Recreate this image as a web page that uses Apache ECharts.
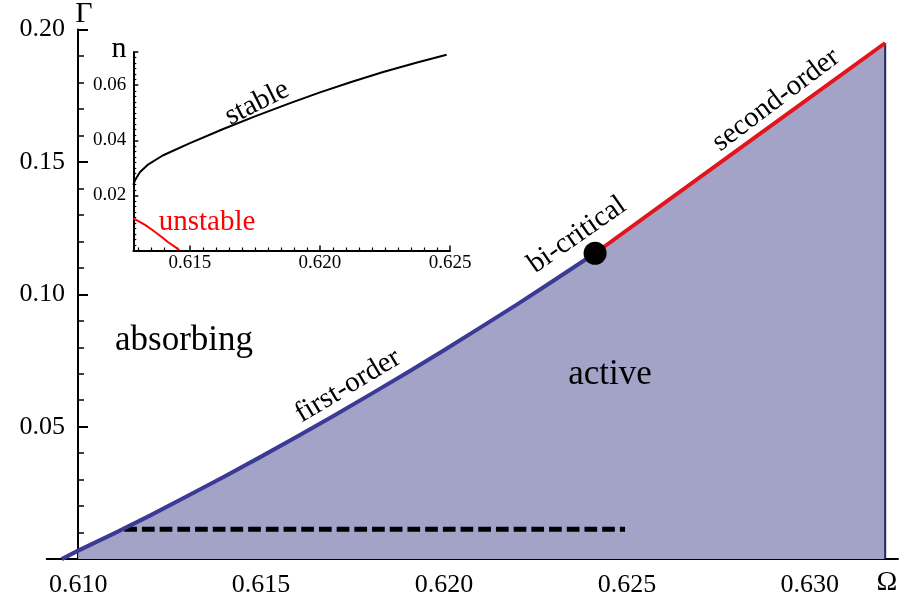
<!DOCTYPE html>
<html>
<head>
<meta charset="utf-8">
<script src="https://cdn.jsdelivr.net/npm/echarts@6/dist/echarts.min.js"></script>
<style>html,body{margin:0;padding:0;background:#fff;}#c{width:906px;height:608px;}</style>
</head>
<body>
<div id="c"></div>
<script>
// ---------- data ----------
// main panel: first-order boundary (blue)
const firstOrderOmega = [0.60955, 0.6100, 0.6110, 0.6120, 0.6130, 0.6140, 0.6150, 0.6160, 0.6170, 0.6180, 0.6190, 0.6200, 0.6210, 0.6220, 0.6230, 0.62413];
const firstOrderGamma = [0.0000, 0.0032, 0.0098, 0.0167, 0.0239, 0.0312, 0.0387, 0.0464, 0.0542, 0.0623, 0.0705, 0.0789, 0.0875, 0.0962, 0.1052, 0.1155];
// second-order boundary (red)
const secondOrderOmega = [0.62413, 0.62800, 0.63206];
const secondOrderGamma = [0.1155, 0.1543, 0.1949];
// bi-critical point
const biCritical = [0.62413, 0.1155];
// dashed cut
const dashedOmega = [0.61126, 0.62495];
const dashedGamma = [0.0113, 0.0113];
// right boundary of active region
const edgeOmega = [0.63206, 0.63206];
const edgeGamma = [0, 0.1949];
// ticks
const mainXTicks = [0.610, 0.615, 0.620, 0.625, 0.630];
const mainXMinor = [0.611, 0.612, 0.613, 0.614, 0.616, 0.617, 0.618, 0.619, 0.621, 0.622, 0.623, 0.624, 0.626, 0.627, 0.628, 0.629, 0.631, 0.632];
const insetXTicks = [0.615, 0.620, 0.625];
const insetXMinor = [0.613, 0.6135, 0.614, 0.6145, 0.6155, 0.616, 0.6165, 0.617, 0.6175, 0.618, 0.6185, 0.619, 0.6195, 0.6205, 0.621, 0.6215, 0.622, 0.6225, 0.623, 0.6235, 0.624, 0.6245];
// inset: stable branch (black) and unstable branch (red)
const stableOmega = [0.61282, 0.61290, 0.61308, 0.61340, 0.61395, 0.61500, 0.61628, 0.61750, 0.61885, 0.62000, 0.62120, 0.62243, 0.62370, 0.62487];
const stableN     = [0.0238, 0.0258, 0.0285, 0.0313, 0.0345, 0.0390, 0.0441, 0.0487, 0.0535, 0.0574, 0.0612, 0.0648, 0.0682, 0.0711];
const unstableOmega = [0.61282, 0.61305, 0.61327, 0.61350, 0.61372, 0.61394, 0.61416, 0.61438, 0.61459];
const unstableN     = [0.0117, 0.0105, 0.0093, 0.0078, 0.00625, 0.0047, 0.0030, 0.0016, 0.0002];

// ---------- build ----------
const zip = (a, b) => a.map((v, i) => [v, b[i]]);
const blueData = zip(firstOrderOmega, firstOrderGamma);
const redData = zip(secondOrderOmega, secondOrderGamma);
const fillData = blueData.slice(1).concat(redData.slice(1));

const SERIF = '"Liberation Serif", "Times New Roman", serif';
const chart = echarts.init(document.getElementById('c'), null, {renderer: 'canvas'});

function txt(text, x, y, size, deg, color) {
  return {
    type: 'text', x: x, y: y, rotation: (deg || 0) * Math.PI / 180, z: 100,
    style: {text: text, font: size + 'px ' + SERIF, fill: color || '#000',
            textAlign: 'center', textVerticalAlign: 'middle', align: 'center', verticalAlign: 'middle'}
  };
}

const option = {
  animation: false,
  backgroundColor: '#fff',
  grid: [
    {left: 46.7, right: 8, top: 29.5, bottom: 48.9},
    {left: 133.3, right: 456, top: 52.2, bottom: 357.5}
  ],
  xAxis: [
    {gridIndex: 0, type: 'value', min: 0.60914, max: 0.63241, position: 'bottom',
     axisLine: {show: true, onZero: false, lineStyle: {color: '#000', width: 2}},
     axisTick: {show: true, inside: true, length: 9, customValues: mainXTicks, lineStyle: {color: '#000', width: 2}},
     minorTick: {show: false},
     axisLabel: {show: true, customValues: mainXTicks, margin: 13, color: '#000', fontSize: 26, fontFamily: SERIF,
                 formatter: v => v.toFixed(3)},
     splitLine: {show: false}},
    {gridIndex: 0, type: 'value', min: 0.60914, max: 0.63241, position: 'bottom',
     axisLine: {show: false, onZero: false},
     axisTick: {show: true, inside: true, length: 5, customValues: mainXMinor, lineStyle: {color: '#000', width: 1.5}},
     axisLabel: {show: false}, splitLine: {show: false}},
    {gridIndex: 1, type: 'value', min: 0.61282, max: 0.625, position: 'bottom',
     axisLine: {show: true, onZero: false, lineStyle: {color: '#000', width: 2}},
     axisTick: {show: true, inside: true, length: 5, customValues: insetXTicks, lineStyle: {color: '#000', width: 1.5}},
     axisLabel: {show: true, customValues: insetXTicks, margin: 3, color: '#000', fontSize: 19, fontFamily: SERIF,
                 formatter: v => v.toFixed(3)},
     splitLine: {show: false}},
    {gridIndex: 1, type: 'value', min: 0.61282, max: 0.625, position: 'bottom',
     axisLine: {show: false, onZero: false},
     axisTick: {show: true, inside: true, length: 3, customValues: insetXMinor, lineStyle: {color: '#000', width: 1.2}},
     axisLabel: {show: false}, splitLine: {show: false}}
  ],
  yAxis: [
    {gridIndex: 0, type: 'value', min: 0, max: 0.2, interval: 0.05, position: 'left', offset: -31.3,
     axisLine: {show: true, onZero: false, lineStyle: {color: '#000', width: 2}},
     axisTick: {show: true, inside: true, length: 10, lineStyle: {color: '#000', width: 2}},
     minorTick: {show: true, splitNumber: 5, length: 6, lineStyle: {color: '#000', width: 1.5}},
     axisLabel: {margin: 13, color: '#000', fontSize: 26, fontFamily: SERIF,
                 formatter: v => v === 0 ? '' : v.toFixed(2)},
     splitLine: {show: false}, minorSplitLine: {show: false}},
    {gridIndex: 1, type: 'value', min: 0, max: 0.072, interval: 0.02, position: 'left',
     axisLine: {show: true, onZero: false, lineStyle: {color: '#000', width: 2}},
     axisTick: {show: true, inside: true, length: 5, lineStyle: {color: '#000', width: 1.5}},
     minorTick: {show: true, splitNumber: 10, length: 3, lineStyle: {color: '#000', width: 1.2}},
     axisLabel: {margin: 7, color: '#000', fontSize: 19, fontFamily: SERIF, showMaxLabel: false,
                 formatter: v => (v === 0 || Math.abs(v / 0.02 - Math.round(v / 0.02)) > 1e-6) ? '' : v.toFixed(2)},
     splitLine: {show: false}, minorSplitLine: {show: false}}
  ],
  series: [
    {name: 'active', type: 'line', xAxisIndex: 0, yAxisIndex: 0, data: fillData, smooth: false,
     showSymbol: false, lineStyle: {width: 0}, areaStyle: {color: '#a3a2c7', opacity: 1}, z: 1, silent: true},
    {name: 'dashed', type: 'line', xAxisIndex: 0, yAxisIndex: 0, data: zip(dashedOmega, dashedGamma),
     showSymbol: false, lineStyle: {color: '#000', width: 5, type: [12.7, 5]}, z: 3},
    {name: 'edge', type: 'line', xAxisIndex: 0, yAxisIndex: 0, data: zip(edgeOmega, edgeGamma),
     showSymbol: false, lineStyle: {color: '#25255a', width: 2}, z: 3},
    {name: 'first-order', type: 'line', xAxisIndex: 0, yAxisIndex: 0, data: blueData, smooth: false,
     showSymbol: false, lineStyle: {color: '#3b3b96', width: 4, join: 'round'}, z: 4},
    {name: 'second-order', type: 'line', xAxisIndex: 0, yAxisIndex: 0, data: redData,
     showSymbol: false, lineStyle: {color: '#e3141c', width: 4, join: 'round'}, z: 4},
    {name: 'bi-critical', type: 'scatter', xAxisIndex: 0, yAxisIndex: 0, data: [biCritical],
     symbol: 'circle', symbolSize: 23, itemStyle: {color: '#000', opacity: 1}, z: 5},
    {name: 'stable', type: 'line', xAxisIndex: 2, yAxisIndex: 1, data: zip(stableOmega, stableN), smooth: false,
     showSymbol: false, lineStyle: {color: '#000', width: 2, join: 'round'}, z: 4},
    {name: 'unstable', type: 'line', xAxisIndex: 2, yAxisIndex: 1, data: zip(unstableOmega, unstableN), smooth: false,
     showSymbol: false, lineStyle: {color: '#ff0000', width: 2, join: 'round'}, z: 4}
  ],
  graphic: [
    txt('Γ', 84, 14, 30),
    txt('Ω', 887, 583, 28),
    txt('n', 119, 49, 30),
    txt('stable', 257, 103, 29, 26.6),
    txt('unstable', 207, 222, 29, 0, '#ff0000'),
    txt('absorbing', 184, 341, 35),
    txt('active', 610, 375, 35),
    txt('first-order', 348, 386, 29, 31),
    txt('bi-critical', 577, 235, 29, 35),
    txt('second-order', 776, 100, 29, 37)
  ]
};
chart.setOption(option);
</script>
</body>
</html>
